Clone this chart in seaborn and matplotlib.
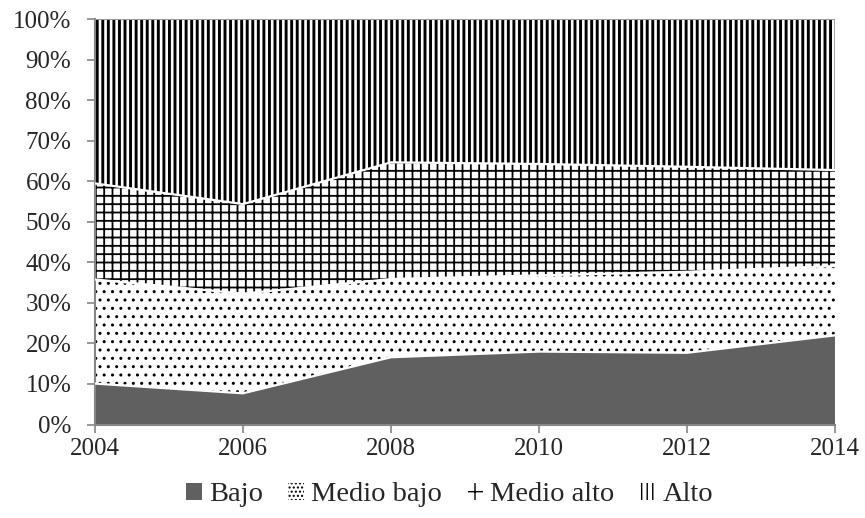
import numpy as np
import pandas as pd
import matplotlib
matplotlib.use("Agg")
import matplotlib.pyplot as plt
import matplotlib.patches as mpatches
import seaborn as sns

years = [2004, 2006, 2008, 2010, 2012, 2014]
bajo = [10.1, 7.7, 16.6, 18.0, 17.7, 22.0]
medio_bajo = [25.7, 24.6, 19.3, 18.8, 20.0, 17.1]
medio_alto = [23.7, 22.1, 28.8, 27.5, 25.9, 23.7]
alto = [40.5, 45.6, 35.3, 35.7, 36.4, 37.2]
series_names = ["Bajo", "Medio bajo", "Medio alto", "Alto"]
y_ticks = [0, 10, 20, 30, 40, 50, 60, 70, 80, 90, 100]
y_labels = [f"{v}%" for v in y_ticks]

sns.set_style("white")
plt.rcParams["font.family"] = ["Liberation Serif", "DejaVu Serif"]
plt.rcParams["hatch.linewidth"] = 1.0

df = pd.DataFrame({"year": years, "Bajo": bajo, "Medio bajo": medio_bajo,
                   "Medio alto": medio_alto, "Alto": alto})
tot = df[series_names].sum(axis=1)
for s in series_names:
    df[s] = df[s] / tot * 100

fig = plt.figure(figsize=(8.65, 5.18), dpi=100)
ax = fig.add_axes([0.1098, 0.1805, 0.8555, 0.7822])

styles = {
    "Bajo": dict(facecolor="#606060", hatch=None, hlw=1.0),
    "Medio bajo": dict(facecolor="white", hatch="..", hlw=1.0),
    "Medio alto": dict(facecolor="white", hatch="++", hlw=1.3),
    "Alto": dict(facecolor="white", hatch="|||", hlw=2.1),
}


def apply_hlw(artist, lw):
    if hasattr(artist, "set_hatch_linewidth"):
        artist.set_hatch_linewidth(lw)
    orig = artist.draw

    def draw(renderer, _orig=orig, _lw=lw):
        with plt.rc_context({"hatch.linewidth": _lw}):
            return _orig(renderer)
    artist.draw = draw


base = np.zeros(len(years))
boundaries = []
for s in series_names:
    top = base + df[s].values
    st = styles[s]
    if st["hatch"] is None:
        ax.fill_between(df["year"], base, top, facecolor=st["facecolor"],
                        edgecolor="none", linewidth=0)
    else:
        with plt.rc_context({"hatch.linewidth": st["hlw"]}):
            coll = ax.fill_between(df["year"], base, top, facecolor=st["facecolor"],
                                   edgecolor="black", linewidth=0, hatch=st["hatch"])
        apply_hlw(coll, st["hlw"])
    boundaries.append(top.copy())
    base = top

# white separator lines between layers
for b in boundaries[:-1]:
    sns.lineplot(x=df["year"], y=b, ax=ax, color="white", linewidth=1.6,
                 legend=False, zorder=5)
ax.axhline(100, color="#9a9a9a", linewidth=1.5, zorder=6)

ax.set_xlim(2004, 2014)
ax.set_ylim(0, 100)
ax.set_xticks(years)
ax.set_xticklabels([str(y) for y in years], fontsize=18)
ax.set_yticks(y_ticks)
ax.set_yticklabels(y_labels, fontsize=18)
ax.set_xlabel("")
ax.set_ylabel("")
for sp in ["top", "right"]:
    ax.spines[sp].set_visible(False)
for sp in ["left", "bottom"]:
    ax.spines[sp].set_color("#868686")
    ax.spines[sp].set_linewidth(1.5)
ax.tick_params(axis="both", which="both", direction="out", length=6,
               width=1.2, color="#868686", left=True, bottom=True)
ax.tick_params(axis="y", pad=11)
ax.tick_params(axis="x", pad=4)

handles = [
    mpatches.Patch(facecolor="#606060", edgecolor="none", label="Bajo"),
    mpatches.Patch(facecolor="white", edgecolor="black", linewidth=0, hatch="....", label="Medio bajo"),
    mpatches.Patch(facecolor="white", edgecolor="black", linewidth=0, hatch="+", label="Medio alto"),
    mpatches.Patch(facecolor="white", edgecolor="black", linewidth=0, hatch="|||", label="Alto"),
]
fig.legend(handles=handles, loc="center", bbox_to_anchor=(0.52, 0.045), ncol=4,
           frameon=False, fontsize=20.5, handlelength=0.55, handleheight=0.55,
           handletextpad=0.25, columnspacing=0.9)

fig.savefig("out.png", dpi=100)
